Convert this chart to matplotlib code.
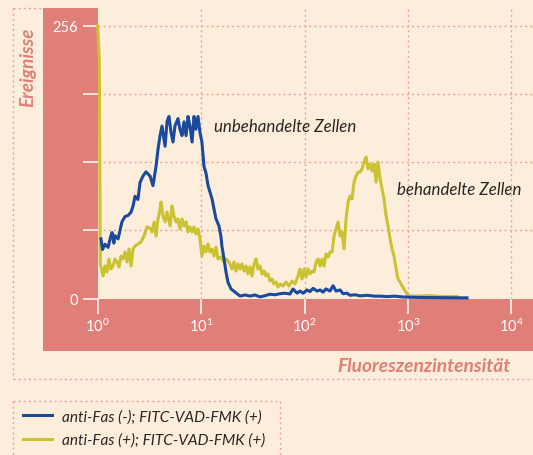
import matplotlib
matplotlib.use("Agg")
import matplotlib.pyplot as plt
from matplotlib.lines import Line2D
from matplotlib.patches import Rectangle
import numpy as np

# Flow cytometry histograms, 256 log channels over four decades (64 channels per decade)
blue_channel = [2, 3, 4.5, 6.4, 8, 8.9, 10, 10.7, 12.6, 15.0, 16.9, 18.8, 20.6, 21.9, 23.1,
                24.9, 26.2, 28.0, 29.9, 32.4, 34.2, 36.1, 37.3, 38.6, 39.8, 41.7, 42.9, 44.1,
                45.4, 46.6, 47.8, 49.7, 50.9, 52.2, 53.4, 54.7, 55.9, 57.1, 58.4, 59.6, 60.8,
                62.1, 63.3, 64.5, 65.8, 67.0, 68.3, 69.5, 70.7, 72.0, 73.2, 75.1, 76.3, 76.9,
                78.2, 79.4, 80.6, 82.5, 85.0, 88.1, 91.2, 94.3, 97.4, 100.4, 103.5, 106.6,
                109.7, 112.8, 115.9, 119.0, 120.9, 123.4, 125.2, 127.1, 129.6, 131.4, 133.3,
                135.8, 137.6, 139.5, 141.3, 143.8, 145.7, 147.5, 150.0, 151.9, 154.3, 156.2,
                159.3, 162.4, 166.7, 171.7, 174.7, 179.1, 184.0, 188.4, 193.3, 199.5, 211.9,
                228.6]
blue_counts = [56, 46, 51, 48, 58, 62, 52, 59, 56, 72, 77, 78, 81, 87, 96,
               93, 109, 115, 119, 115, 106, 124, 140, 153, 162, 143, 166, 171,
               156, 147, 162, 169, 159, 153, 166, 153, 171, 162, 147, 171, 159,
               171, 156, 147, 124, 118, 106, 100, 94, 84, 75, 68, 58, 49,
               37, 25, 15.5, 9, 6, 2.3, 3.3, 2.3, 3.3, 1.5, 2.6, 4.0,
               3.5, 4.5, 5, 4.2, 8.9, 5, 7, 5, 8, 6.5, 9.5,
               7, 8, 6, 9, 7, 12, 7, 8, 4.5, 5, 3,
               3.5, 2.5, 3, 2.2, 2.2, 1.8, 2.2, 1.5, 1.2, 1.0, 0.8,
               0.6]

yellow_channel = [0, 1, 1.6, 3.3, 4.5, 5.7, 7.0, 8.2, 9.5, 10.7, 11.9, 13.2, 14.4, 15.7,
                  16.9, 18.1, 19.4, 20.6, 21.9, 23.1, 24.9, 26.8, 28.7, 30.5, 32.4, 33.6,
                  34.9, 36.1, 37.3, 38.6, 39.2, 40.4, 41.7, 42.9, 44.8, 46.0, 47.2, 48.5,
                  49.7, 50.9, 52.2, 53.4, 54.7, 55.9, 57.1, 58.4, 59.6, 60.8, 62.1, 63.3,
                  64.5, 65.8, 67.0, 68.3, 69.5, 70.7, 72.0, 73.2, 74.5, 76.3, 77.6, 79.4,
                  80.7, 81.9, 83.1, 84.4, 85.6, 86.8, 88.1, 89.3, 90.6, 91.8, 93.0, 94.3,
                  95.5, 96.8, 98.0, 99.2, 100.5, 101.7, 103.0, 104.2, 105.4, 106.7, 107.9,
                  109.1, 110.4, 111.6, 112.9, 114.7, 116.6, 118.4, 120.3, 122.1, 124.0,
                  125.2, 126.5, 127.7, 129.0, 130.2, 131.4, 132.7, 133.9, 135.2, 136.4,
                  137.6, 138.9, 140.1, 141.3, 142.6, 143.8, 145.1, 146.3, 147.5, 148.8,
                  150.0, 151.2, 152.5, 153.7, 155.0, 156.2, 157.4, 158.7, 159.9, 161.2,
                  162.4, 163.6, 164.9, 166.1, 167.3, 168.6, 169.8, 171.1, 172.3, 173.5,
                  174.8, 176.0, 177.2, 178.5, 179.7, 181.0, 182.2, 183.4, 184.7, 185.9,
                  187.1, 188.4, 189.6, 190.8, 192.1, 199.5, 205.7, 211.9, 218.1, 222.4]
yellow_counts = [256, 225, 33, 21.1, 30.5, 24.9, 37.1, 27.7, 30.5, 37.1, 34.3, 29.6, 39.9, 37.1,
                 43.7, 34.3, 46.5, 30.5, 46.5, 49.3, 51.2, 53.1, 58.7, 67.2, 66, 62.5,
                 71.9, 58.7, 74.7, 84.1, 90.7, 77.5, 71.9, 81.3, 68.1, 86.9, 77.5, 71.9,
                 74.7, 65.3, 74.7, 68.1, 71.9, 62.5, 67.2, 62.5, 67.2, 60.6, 65.3, 55.9,
                 39.9, 49.3, 43.7, 51.2, 43.7, 46.5, 39.9, 48.4, 37.1, 39.0, 35.2, 37.1,
                 35.2, 32.4, 27.7, 34.3, 25.8, 32.4, 27.7, 32.4, 25.8, 30.5, 23.0, 29.6,
                 21.1, 32.4, 37.1, 27.7, 30.5, 23.0, 25.8, 21.1, 23.0, 16.4, 18.3,
                 13.6, 15.5, 10.8, 13.6, 11.7, 15.5, 11.7, 16.4, 13.6, 21.1,
                 27.7, 18.3, 27.7, 20.2, 27.7, 23.0, 25.8, 24.9, 34.3, 37.1,
                 30.5, 37.1, 30.5, 41.8, 39.0, 43.7, 43.7, 58.7, 65.3, 71.9,
                 58.7, 62.5, 46.5, 74.7, 90.7, 96.3, 93.5, 109.4, 115.1, 118.8,
                 118.8, 121.7, 128.2, 132.9, 121.7, 126.4, 119.8, 126.4, 109.4, 128.2,
                 112.3, 102.9, 93.5, 77.5, 68.1, 55.9, 46.5, 39.9, 27.7, 18.3,
                 15.5, 11.7, 8.9, 6.1, 2.3, 2.3, 2.8, 1.9, 1.9, 1.9]

channels_per_decade = 64
series_labels = ["anti-Fas (-); FITC-VAD-FMK (+)", "anti-Fas (+); FITC-VAD-FMK (+)"]
y_tick_values = [0, 64, 128, 192, 256]
y_tick_labels = ["0", "", "", "", "256"]
x_decades = [0, 1, 2, 3, 4]

BG = "#FDEEDB"
SALMON = "#E07F78"
GRID = "#EBA29B"
BLUE = "#1A4A9E"
YELLOW = "#CBC232"
DARK = "#2B2523"

plt.rcParams["font.family"] = ["Lato", "DejaVu Sans"]
plt.rcParams["mathtext.fontset"] = "custom"
plt.rcParams["mathtext.rm"] = "Lato"
plt.rcParams["mathtext.it"] = "Lato:italic"

W, H = 533, 456
fig = plt.figure(figsize=(W / 100, H / 100), dpi=100, facecolor=BG)


def fx(px):
    return px / W


def fy(py):
    return 1 - py / H


# plotting area in pixel terms
x0, x1, y_top, y0 = 97.7, 533, 9, 299.5
decade_px = 103.4
count_px = 272.5 / 256
ax = fig.add_axes([fx(x0), fy(y0), fx(x1) - fx(x0), fy(y_top) - fy(y0)])
ax.set_facecolor(BG)
ax.set_xscale("log")
ax.set_xlim(1, 10 ** ((x1 - x0) / decade_px))
ax.set_ylim(0, (y0 - y_top) / count_px)

# salmon frame round the plotting area
fig.patches.append(Rectangle((fx(43), fy(352)), fx(x0) - fx(43), fy(9) - fy(352),
                             transform=fig.transFigure, facecolor=SALMON,
                             edgecolor="none", zorder=-1))
fig.patches.append(Rectangle((fx(43), fy(352)), fx(W) - fx(43), fy(y0) - fy(352),
                             transform=fig.transFigure, facecolor=SALMON,
                             edgecolor="none", zorder=-1))

# dotted outer frame
dot = dict(color=GRID, linewidth=1.0, linestyle=(0, (1.5, 2.2)), transform=fig.transFigure)
fig.add_artist(Line2D([fx(13), fx(13)], [fy(9), fy(380)], **dot))
fig.add_artist(Line2D([fx(13), fx(43)], [fy(9), fy(9)], **dot))
fig.add_artist(Line2D([fx(13), fx(W)], [fy(380), fy(380)], **dot))
# dotted legend frame
fig.add_artist(Line2D([fx(13), fx(280), fx(280)], [fy(402), fy(402), fy(H + 5)], **dot))
fig.add_artist(Line2D([fx(13), fx(13)], [fy(402), fy(H + 5)], **dot))

# grid
for v in y_tick_values[1:]:
    ax.axhline(v, color=GRID, linewidth=1.0, linestyle=(0, (1.5, 2.2)), zorder=1)
for d in x_decades[1:]:
    ax.axvline(10 ** d, color=GRID, linewidth=1.0, linestyle=(0, (1.5, 2.2)), zorder=1)

bx = 10 ** (np.array(blue_channel) / channels_per_decade)
yx = 10 ** (np.array(yellow_channel) / channels_per_decade)
ax.plot(yx, yellow_counts, color=YELLOW, linewidth=2.2, clip_on=False, zorder=3,
        label=series_labels[1])
ax.plot(bx, blue_counts, color=BLUE, linewidth=2.2, clip_on=False, zorder=4,
        label=series_labels[0])

for s in ax.spines.values():
    s.set_visible(False)

ax.set_yticks(y_tick_values)
ax.set_yticklabels(y_tick_labels)
ax.set_xticks([10 ** d for d in x_decades])
ax.set_xticklabels([f"$10^{{{d}}}$" for d in x_decades])
ax.xaxis.set_minor_locator(matplotlib.ticker.NullLocator())
ax.tick_params(axis="both", direction="out", length=10.8, width=1.1, color="white",
               labelcolor="white", labelsize=10.5)
ax.tick_params(axis="y", pad=3.5)
ax.tick_params(axis="x", pad=2.5)

# annotations
ax.text(10 ** ((214 - x0) / decade_px), (y0 - 127) / count_px, "unbehandelte Zellen",
        fontsize=12.2, style="italic", color=DARK, va="center", ha="left")
ax.text(10 ** ((397 - x0) / decade_px), (y0 - 190) / count_px, "behandelte Zellen",
        fontsize=12.2, style="italic", color=DARK, va="center", ha="left")

fig.text(fx(28), fy(67), "Ereignisse", rotation=90, fontsize=13.6, fontweight="bold",
         style="italic", color=SALMON, ha="center", va="center")
fig.text(fx(511), fy(366), "Fluoreszenzintensität", fontsize=13.8, fontweight="bold",
         style="italic", color=SALMON, ha="right", va="center")

h_blue = Line2D([], [], color=BLUE, linewidth=2.2)
h_yellow = Line2D([], [], color=YELLOW, linewidth=2.2)
fig.legend([h_blue, h_yellow], series_labels, loc="upper left",
           bbox_to_anchor=(fx(23), fy(410)), frameon=False, borderpad=0,
           borderaxespad=0, handlelength=1.85, handletextpad=0.65, labelspacing=0.62,
           prop=dict(family="Lato", style="italic", size=11.1), labelcolor=DARK)

fig.savefig("out.png", dpi=100, facecolor=BG)
